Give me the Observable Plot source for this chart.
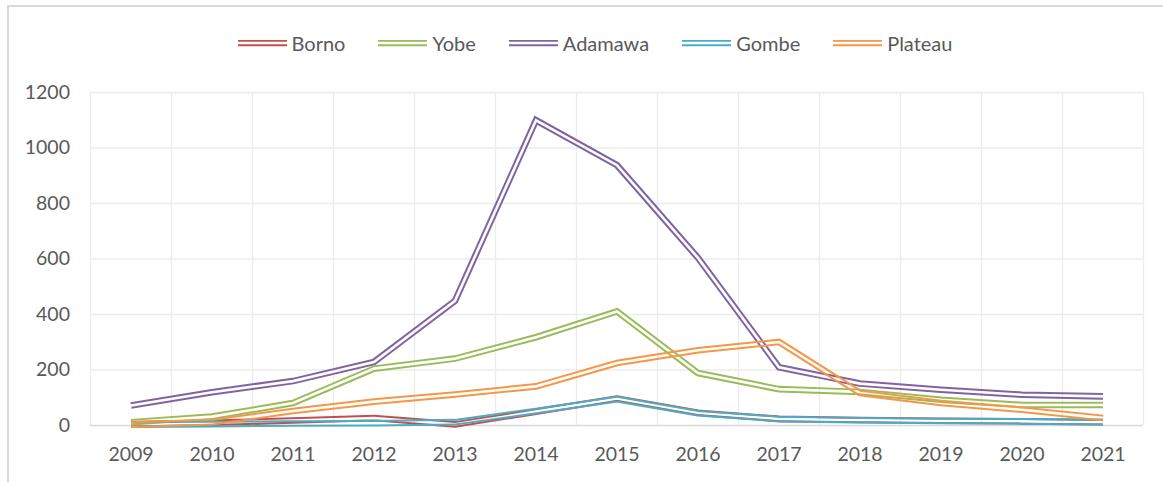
<!DOCTYPE html>
<html>
<head>
<meta charset="utf-8">
<script src="https://cdn.jsdelivr.net/npm/d3@7"></script>
<script src="https://cdn.jsdelivr.net/npm/@observablehq/plot@0.6"></script>
<style>
  html, body { margin: 0; padding: 0; background: #fff; }
  #wrap { position: relative; width: 1163px; height: 482px; overflow: hidden; font-family: Lato, "Open Sans", sans-serif; }
  #frame { position: absolute; left: 7px; top: 5px; right: -10px; bottom: -10px; border-top: 2px solid #d9d9d9; border-left: 2px solid #d9d9d9; pointer-events: none; }
  #legend { box-sizing: border-box; height: 70px; padding-top: 15px; padding-left: 27px; display: flex; justify-content: center; align-items: center; gap: 33px; font-size: 20px; color: #595959; }
  .item { display: flex; align-items: center; gap: 5px; }
  .item svg { display: block; }
  #chart svg { display: block; }
</style>
</head>
<body>
<div id="wrap">
  <div id="legend"></div>
  <div id="chart"></div>
  <div id="frame"></div>
</div>
<script>
const years = [2009, 2010, 2011, 2012, 2013, 2014, 2015, 2016, 2017, 2018, 2019, 2020, 2021];
const seriesNames = ["Borno", "Yobe", "Adamawa", "Gombe", "Plateau"];
const colors = ["#C0504D", "#9BBB59", "#8064A2", "#4BACC6", "#F79646"];
const borno   = [5, 10, 18, 27, 4, 50, 97, 46, 24, 20, 17, 15, 12];
const yobe    = [12, 32, 81, 205, 241, 318, 411, 189, 131, 121, 93, 74, 74];
const adamawa = [72, 120, 160, 229, 449, 1100, 938, 604, 210, 151, 129, 111, 105];
const gombe   = [3, 5, 7, 8, 12, 52, 95, 44, 23, 19, 16, 15, 12];
const plateau = [3, 12, 52, 86, 112, 141, 225, 271, 301, 117, 81, 57, 27];
const yTicks = [0, 200, 400, 600, 800, 1000, 1200];

const seriesValues = [borno, yobe, adamawa, gombe, plateau];
const data = [];
seriesNames.forEach((name, si) => {
  years.forEach((yr, i) => data.push({series: name, year: yr, value: seriesValues[si][i]}));
});
const boundaries = [...years.map(y => y - 0.5), years[years.length - 1] + 0.5];

// Legend
const legend = document.getElementById("legend");
seriesNames.forEach((name, i) => {
  const item = document.createElement("div");
  item.className = "item";
  item.innerHTML = `<svg width="49" height="10"><line x1="0" x2="49" y1="2.9" y2="2.9" stroke="${colors[i]}" stroke-width="1.9"/><line x1="0" x2="49" y1="7.2" y2="7.2" stroke="${colors[i]}" stroke-width="1.9"/></svg><span>${name}</span>`;
  legend.appendChild(item);
});

const chart = Plot.plot({
  width: 1163,
  height: 412,
  marginTop: 22,
  marginBottom: 57,
  marginLeft: 90,
  marginRight: 20,
  style: {fontFamily: "Lato, 'Open Sans', sans-serif", fontSize: "19.5px", color: "#595959", background: "transparent"},
  x: {type: "linear", domain: [boundaries[0], boundaries[boundaries.length - 1]]},
  y: {domain: [0, 1200]},
  color: {domain: seriesNames, range: colors},
  marks: [
    Plot.ruleX(boundaries, {y1: 0, y2: 1200, stroke: "#ececec", strokeWidth: 1.3}),
    Plot.ruleY(yTicks.slice(1), {stroke: "#ececec", strokeWidth: 1.3}),
    Plot.ruleY([0], {stroke: "#d9d9d9", strokeWidth: 1.6}),
    Plot.line(data, {x: "year", y: "value", z: "series", stroke: "series", strokeWidth: 6.6, strokeLinejoin: "miter", strokeLinecap: "butt", strokeMiterlimit: 4}),
    Plot.axisY({ticks: yTicks, tickSize: 0, tickPadding: 20.5, tickFormat: d => String(d), label: null}),
    Plot.axisX({ticks: years, tickSize: 0, tickPadding: 22, tickFormat: d => String(d), label: null})
  ]
});
document.getElementById("chart").appendChild(chart);

// Turn each thick line into an Excel-style double line (transparent centre) with a mask.
const ns = "http://www.w3.org/2000/svg";
const defs = document.createElementNS(ns, "defs");
chart.insertBefore(defs, chart.firstChild);
chart.querySelectorAll('g[aria-label="line"] path').forEach((p, i) => {
  const m = document.createElementNS(ns, "mask");
  m.setAttribute("id", "dbl" + i);
  m.setAttribute("maskUnits", "userSpaceOnUse");
  m.setAttribute("x", "-2000"); m.setAttribute("y", "-2000");
  m.setAttribute("width", "6000"); m.setAttribute("height", "6000");
  const r = document.createElementNS(ns, "rect");
  r.setAttribute("x", "-2000"); r.setAttribute("y", "-2000");
  r.setAttribute("width", "6000"); r.setAttribute("height", "6000");
  r.setAttribute("fill", "white");
  const c = p.cloneNode(false);
  c.removeAttribute("mask");
  c.setAttribute("stroke", "black");
  c.setAttribute("stroke-width", "2.6");
  c.setAttribute("fill", "none");
  c.setAttribute("stroke-linejoin", "miter");
  c.setAttribute("stroke-linecap", "square");
  m.appendChild(r); m.appendChild(c);
  defs.appendChild(m);
  p.setAttribute("mask", `url(#dbl${i})`);
});
</script>
</body>
</html>
